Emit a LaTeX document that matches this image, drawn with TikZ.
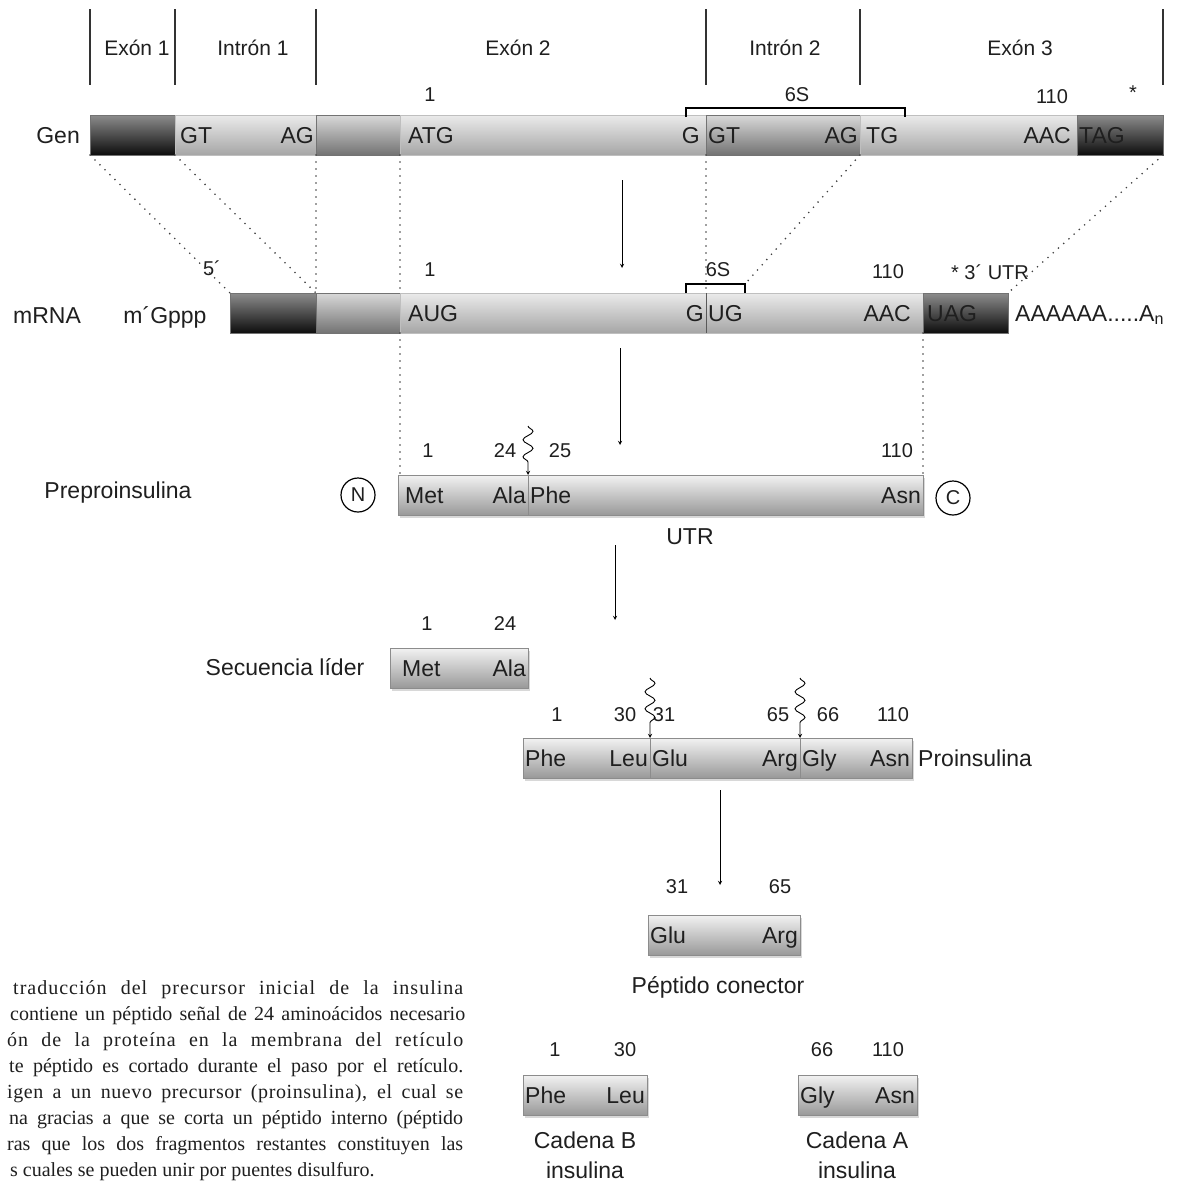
\documentclass[tikz,border=0pt]{standalone}
\usepackage{fontspec}
\setmainfont{Liberation Serif}
\setsansfont{Liberation Sans}
\usetikzlibrary{decorations.pathmorphing,shadows}

\begin{document}
\begin{tikzpicture}[x=1pt,y=-1pt,font=\sffamily\fontsize{23}{26}\selectfont,
  inner sep=2pt,text=black!88,
  seg/.style={anchor=north west,inner sep=0pt,outer sep=0pt,minimum height=40pt,line width=0.8pt},
  dk/.style={seg,draw=black!55,top color=black!45,bottom color=black!95},
  md/.style={seg,draw=black!55,top color=black!15,bottom color=black!55},
  lt/.style={seg,draw=black!25,top color=black!8,bottom color=black!35},
  pp/.style={seg,draw=black!45,top color=black!5,bottom color=black!40,
    drop shadow={shadow xshift=1.5pt,shadow yshift=-3pt,opacity=.3}},
  cod/.style={text height=16.5pt,text depth=0pt},
  num/.style={font=\sffamily\fontsize{20}{22}\selectfont},
  hd/.style={font=\sffamily\fontsize{21}{24}\selectfont},
  ch/.style={align=center,font=\sffamily\fontsize{23}{30}\selectfont},
  end/.style={circle,draw,line width=1.2pt,inner sep=0pt,minimum size=34pt,font=\sffamily\fontsize{20}{22}\selectfont},
  dots/.style={black!75,line width=1.8pt,line cap=round,dash pattern=on 0pt off 7pt},
  go/.style={->,>=stealth,line width=0.9pt},
  cut/.style={->,>=stealth,line width=0.9pt,decorate,
    decoration={snake,amplitude=5,segment length=17,post length=9}},
  par/.style={anchor=base west,inner sep=0pt,font=\rmfamily\fontsize{20}{22}\selectfont}]
\fill[white] (0,0) rectangle (1185,1184);
\useasboundingbox (0,0) rectangle (1185,1184);

% gen
\foreach \x in {90,175,316,706,860,1163} \draw[line width=1.4pt,black!80] (\x,9) -- (\x,85);
\node[hd] (x1) at (137,48) {Exón 1};
\node[hd] (x2) at (253,48) {Intrón 1};
\node[hd] (x3) at (518,48) {Exón 2};
\node[hd] (x4) at (785,48) {Intrón 2};
\node[hd] (x5) at (1020,48) {Exón 3};

\node[dk,minimum width=85pt] (g1) at (90,115) {};
\node[lt,minimum width=141pt] (g2) at (g1.north east) {};
\node[md,minimum width=84pt] (g3) at (g2.north east) {};
\node[lt,minimum width=306pt] (g4) at (g3.north east) {};
\node[md,minimum width=154pt] (g5) at (g4.north east) {};
\node[lt,minimum width=217pt] (g6) at (g5.north east) {};
\node[dk,minimum width=86pt] (g7) at (g6.north east) {};
\node[cod,anchor=east] (gen) at ([xshift=-8pt]g1.west) {Gen};
\node[cod,anchor=west] at ([xshift=3pt]g2.west) {GT};
\node[cod,anchor=east] at (g2.east) {AG};
\node[cod,anchor=west] at ([xshift=6pt]g4.west) {ATG};
\node[cod,anchor=east] at ([xshift=-4pt]g4.east) {G};
\node[cod,anchor=west] at (g5.west) {GT};
\node[cod,anchor=east] at (g5.east) {AG};
\node[cod,anchor=west] at ([xshift=4pt]g6.west) {TG};
\node[cod,anchor=east] at ([xshift=-4pt]g6.east) {AAC};
\node[cod,anchor=west] at (g7.west) {TAG};
\node[num] at (430,95) {1};
\node[num] at (797,95) {6S};
\node[num] at (1052,97) {110};
\node[num] at (1133,93) {*};
\draw[line width=1.2pt] (686,117) -- (686,108) -- (905,108) -- (905,117);

% mRNA
\node[cod] (mr) at (47,315) {mRNA};
\node[cod] (cap) at (165,315) {m´Gppp};
\node[dk,minimum width=86pt] (m1) at (230,293) {};
\node[md,minimum width=84pt] (m2) at (m1.north east) {};
\node[lt,minimum width=306pt] (m3) at (m2.north east) {};
\node[lt,minimum width=217pt] (m4) at (m3.north east) {};
\node[dk,minimum width=85pt] (m5) at (m4.north east) {};
\draw[black!65,line width=0.8pt] (m4.north west) -- (m4.south west);
\node[cod,anchor=west] at ([xshift=6pt]m3.west) {AUG};
\node[cod,anchor=east] at (m3.east) {G};
\node[cod,anchor=west] at (m4.west) {UG};
\node[cod,anchor=east] at ([xshift=-10pt]m4.east) {AAC};
\node[cod,anchor=west] at ([xshift=2pt]m5.west) {UAG};
\node[cod,anchor=west] (pa) at ([xshift=5pt]m5.east) {AAAAAA.....A\textsubscript{n}};
\node[num] at (212,268) {5´};
\node[num] at (430,270) {1};
\node[num] at (718,270) {6S};
\node[num] at (888,272) {110};
\node[num] at (990,272) {* 3´ UTR};
\draw[line width=1.2pt] (686,293) -- (686,284) -- (745,284) -- (745,293);
\coordinate (bk) at (745,284);

% preproinsulina
\node[cod] (pre) at (118,490) {Preproinsulina};
\node[pp,minimum width=130pt] (p1) at (398,475) {};
\node[pp,minimum width=395pt] (p2) at (p1.north east) {};
\node[end] (nt) at (358,495) {N};
\node[end] (ct) at (953,498) {C};
\node[cod,anchor=west] at ([xshift=5pt]p1.west) {Met};
\node[cod,anchor=east] at (p1.east) {Ala};
\node[cod,anchor=west] at (p2.west) {Phe};
\node[cod,anchor=east] at (p2.east) {Asn};
\node[num] at (428,451) {1};
\node[num] at (505,451) {24};
\node[num] at (560,451) {25};
\node[num] at (897,451) {110};
\coordinate (k1) at (528,426);
\draw[cut] (k1) -- (p1.north east);
\node (utr) at (690,537) {UTR};

% secuencia lider
\node[cod] (sec) at (285,667) {Secuencia líder};
\node[pp,minimum width=138pt] (s1) at (390,648) {};
\node[cod,anchor=west] at ([xshift=10pt]s1.west) {Met};
\node[cod,anchor=east] at (s1.east) {Ala};
\node[num] at (427,624) {1};
\node[num] at (505,624) {24};

% proinsulina
\node[pp,minimum width=127pt] (q1) at (523,738) {};
\node[pp,minimum width=150pt] (q2) at (q1.north east) {};
\node[pp,minimum width=112pt] (q3) at (q2.north east) {};
\node[cod,anchor=west] at (q1.west) {Phe};
\node[cod,anchor=east] at (q1.east) {Leu};
\node[cod,anchor=west] at (q2.west) {Glu};
\node[cod,anchor=east] at (q2.east) {Arg};
\node[cod,anchor=west] at (q3.west) {Gly};
\node[cod,anchor=east] at (q3.east) {Asn};
\node[cod,anchor=west] (pro) at ([xshift=4pt]q3.east) {Proinsulina};
\node[num] at (557,715) {1};
\node[num] at (625,715) {30};
\node[num] at (664,715) {31};
\node[num] at (778,715) {65};
\node[num] at (828,715) {66};
\node[num] at (893,715) {110};
\coordinate (k2) at (650,678);
\coordinate (k3) at (800,678);
\draw[cut] (k2) -- (q1.north east);
\draw[cut] (k3) -- (q2.north east);

% peptido conector
\node[pp,minimum width=152pt] (c1) at (648,915) {};
\node[cod,anchor=west] at (c1.west) {Glu};
\node[cod,anchor=east] at (c1.east) {Arg};
\node[num] at (677,887) {31};
\node[num] at (780,887) {65};
\node (pc) at (718,987) {Péptido conector};

% cadenas
\node[pp,minimum width=124pt] (b1) at (523,1075) {};
\node[cod,anchor=west] at (b1.west) {Phe};
\node[cod,anchor=east] at (b1.east) {Leu};
\node[num] at (555,1050) {1};
\node[num] at (625,1050) {30};
\node[ch] (cb) at (585,1155) {Cadena B\\insulina};
\node[pp,minimum width=119pt] (a1) at (798,1075) {};
\node[cod,anchor=west] at (a1.west) {Gly};
\node[cod,anchor=east] at (a1.east) {Asn};
\node[num] at (822,1050) {66};
\node[num] at (888,1050) {110};
\node[ch] (ca) at (857,1155) {Cadena A\\insulina};

% dotted guides
\draw[dots] (g1.south west) -- (m1.north west);
\draw[dots] (g1.south east) -- (m1.north east);
\draw[dots] (g3.south west) -- (m2.north west);
\draw[dots] (g3.south east) -- (m2.north east);
\draw[dots] (m2.south east) -- (m2.south east |- p1.north);
\draw[dots] (g5.south west) -- (m4.north west);
\draw[dots] (g5.south east) -- (bk);
\draw[dots] (g7.south east) -- (m5.north east);
\draw[dots] (m4.south east) -- (p2.north east);

% arrows
\coordinate (v1) at (622,180); \coordinate (v2) at (622,268);
\coordinate (v3) at (620,348); \coordinate (v4) at (620,445);
\coordinate (v5) at (615,545); \coordinate (v6) at (615,620);
\coordinate (v7) at (720,790); \coordinate (v8) at (720,885);
\draw[go] (v1) -- (v2);
\draw[go] (v3) -- (v4);
\draw[go] (v5) -- (v6);
\draw[go] (v7) -- (v8);

% texto
\node[par] (t1) at (13,994) {\addfontfeature{LetterSpace=5}\makebox[450pt][s]{traducción del precursor inicial de la insulina}};
\node[par] (t2) at (10,1020) {\makebox[455pt][s]{contiene un péptido señal de 24 aminoácidos necesario}};
\node[par] (t3) at (7,1046) {\addfontfeature{LetterSpace=5}\makebox[456pt][s]{ón de la proteína en la membrana del retículo}};
\node[par] (t4) at (9,1072) {\makebox[454pt][s]{te péptido es cortado durante el paso por el retículo.}};
\node[par] (t5) at (7,1098) {\addfontfeature{LetterSpace=3}\makebox[456pt][s]{igen a un nuevo precursor (proinsulina), el cual se}};
\node[par] (t6) at (9,1124) {\makebox[454pt][s]{na gracias a que se corta un péptido interno (péptido}};
\node[par] (t7) at (7,1150) {\makebox[456pt][s]{ras que los dos fragmentos restantes constituyen las}};
\node[par] (t8) at (10,1176) {s cuales se pueden unir por puentes disulfuro.};
\end{tikzpicture}
\end{document}
